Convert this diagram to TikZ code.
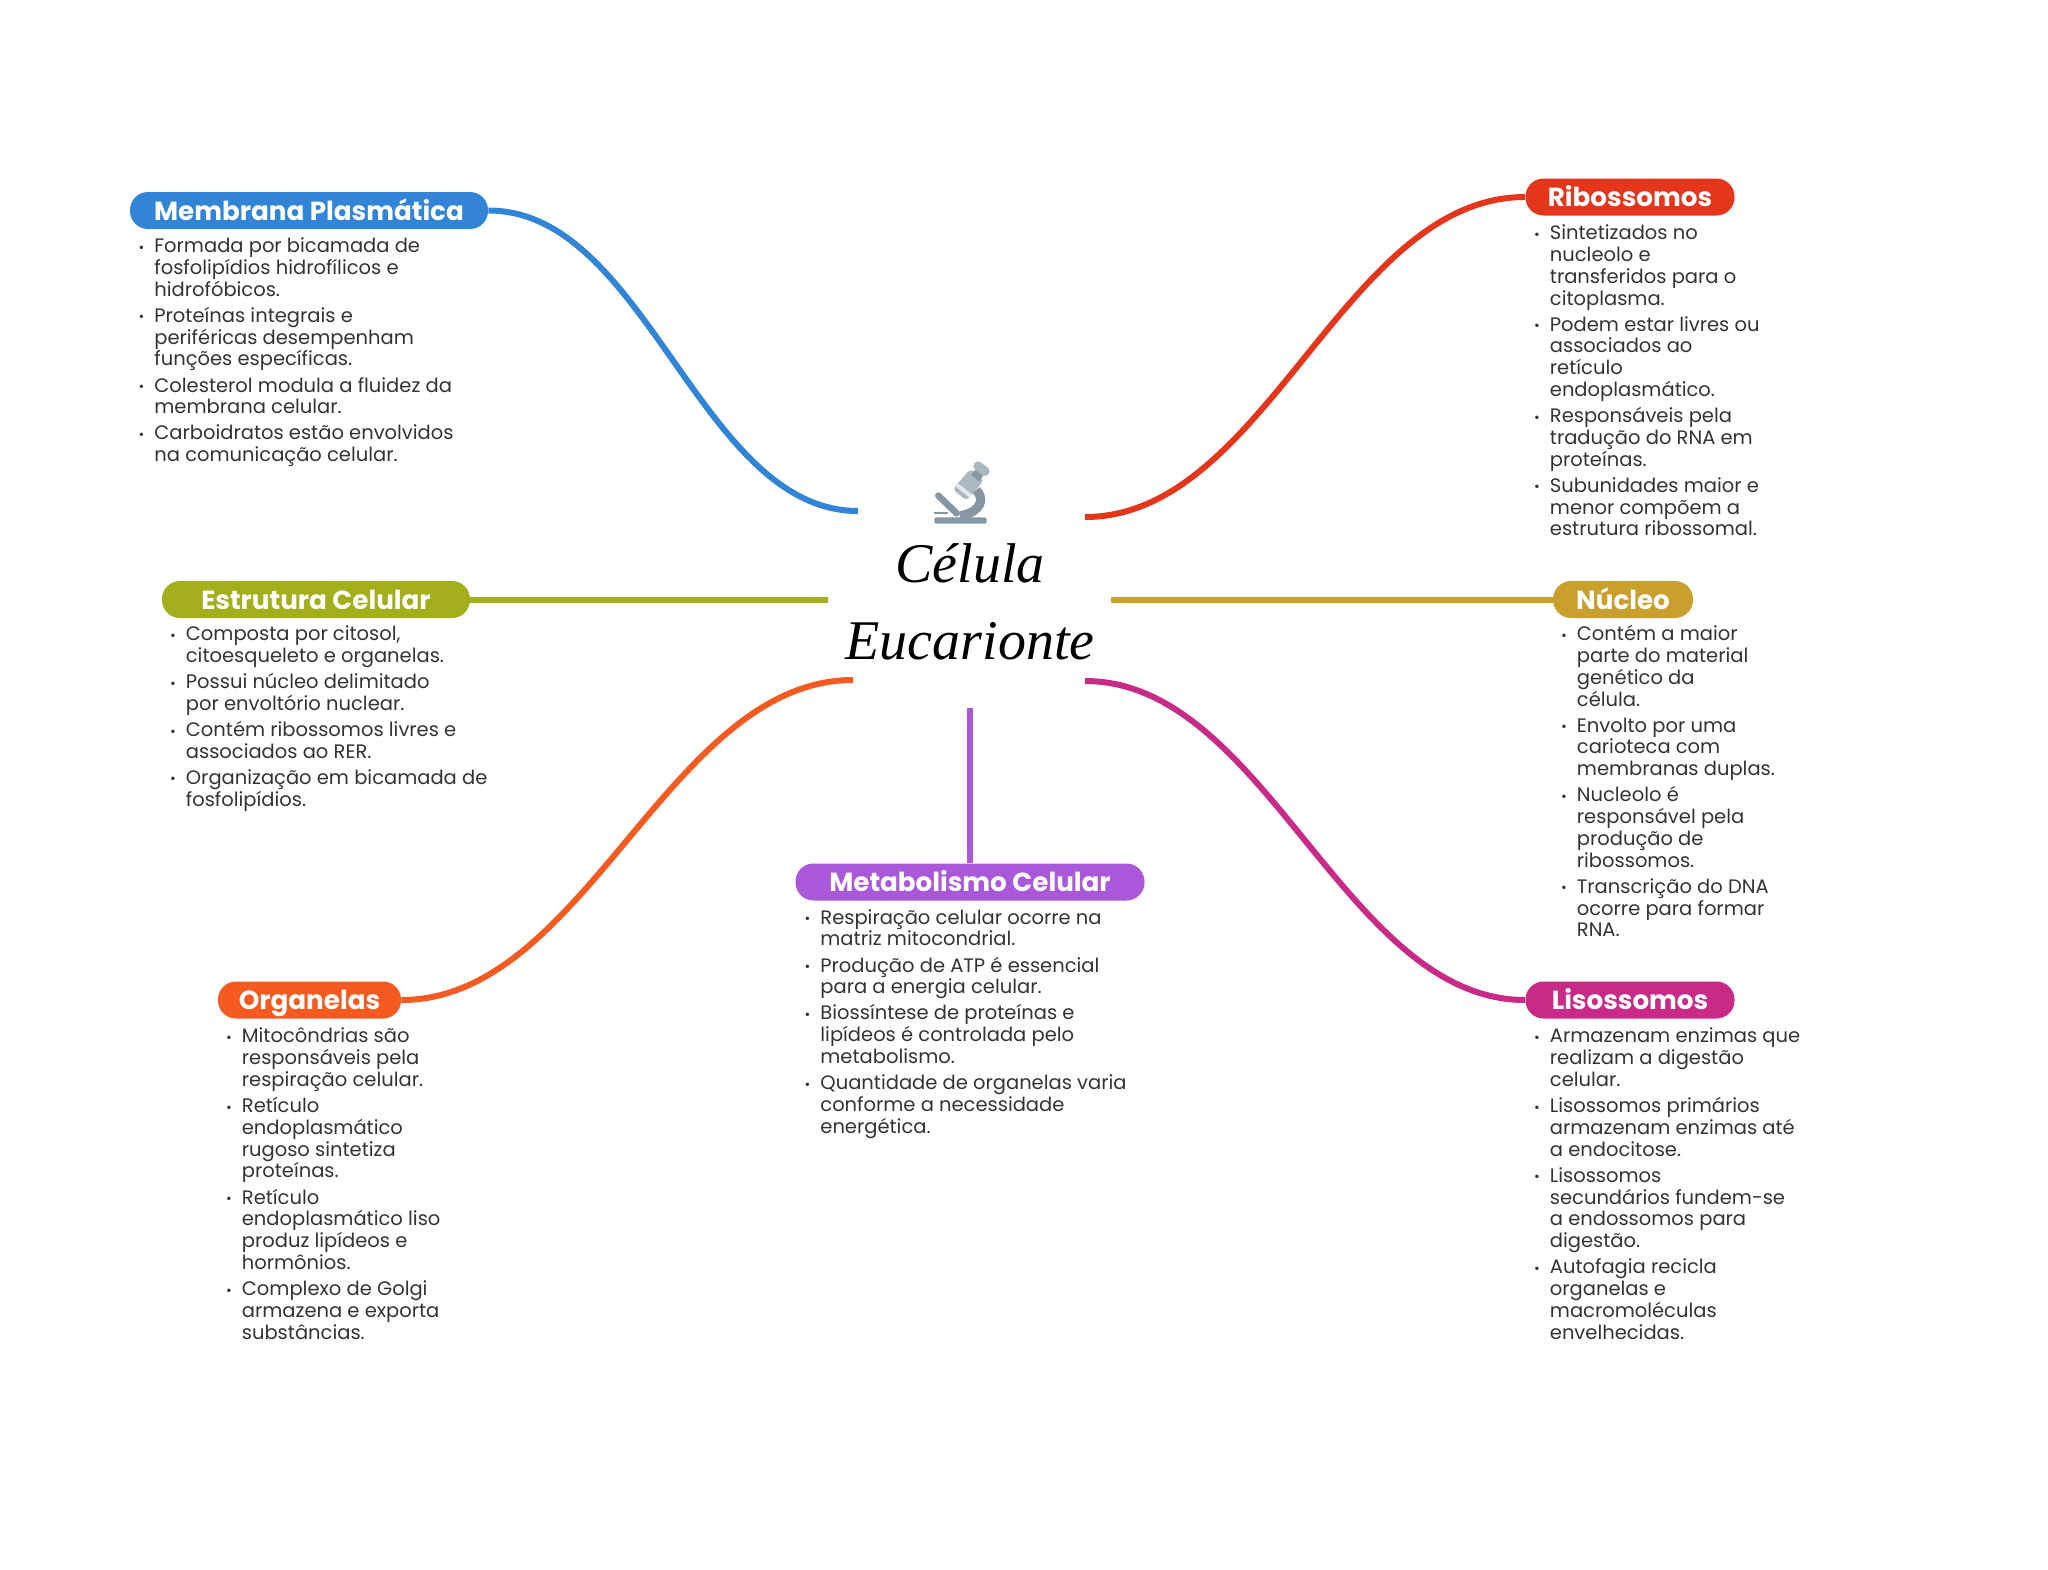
\documentclass[tikz,border=0pt]{standalone}
\usepackage{fontspec}
\setmainfont{Poppins}
\newfontfamily\titlefont{Liberation Serif}
\definecolor{azulM}{HTML}{3184D6}
\definecolor{vermR}{HTML}{E3361B}
\definecolor{oliveE}{HTML}{A2AE1A}
\definecolor{ouroN}{HTML}{C9A02E}
\definecolor{laranjaO}{HTML}{F55A20}
\definecolor{roxoB}{HTML}{AA58DA}
\definecolor{magentaL}{HTML}{C72A87}
\definecolor{textoC}{HTML}{333333}
\definecolor{microA}{HTML}{A9B8C1}
\definecolor{microB}{HTML}{8696A3}
\newcommand{\bul}{\leavevmode\strut\llap{{\fontsize{7}{7}\selectfont\raisebox{0.2pt}{•}}\hspace{5pt}}}
\newcommand{\gapi}{\\[2.15pt]}
\newcommand{\bodyfont}{\fontsize{9.75}{10.9}\selectfont\setlength{\lineskiplimit}{-20pt}}
\tikzset{
  headbox/.style={fill=#1, rounded corners=9pt, inner xsep=2pt, inner ysep=0pt, minimum height=18.5pt,
    text=white, text height=10.5pt, text depth=0.9pt, font=\fontsize{13.1}{15}\selectfont\bfseries},
  bodytxt/.style={anchor=north west, inner sep=0pt, align=left, text=textoC, font=\bodyfont},
  conn/.style={line width=3pt, draw=#1},
  curvL/.style={out=0, in=180, looseness=0.85},
  curvR/.style={out=180, in=0, looseness=0.85}
}
\begin{document}
\begin{tikzpicture}[x=0.5pt, y=-0.5pt]
\useasboundingbox (0,0) rectangle (2048,1569);
% Title
\node[inner sep=0pt, align=center, font=\fontsize{28}{38.5}\selectfont\titlefont\itshape] (titulo) at (970,602) {Célula\\Eucarionte};
% Microscope
\begin{scope}[shift={(800,430)}, scale=1/3]
\draw[line width=3.3pt, line cap=round, draw=microB] (415,197) -- (470,250);
\fill[microB] (403,245) rectangle (445,253);
\draw[line width=4.6pt, draw=microB] (528,180) .. controls (555,205) and (545,245) .. (480,258);
\fill[microB, rounded corners=1pt] (403,262) rectangle (560,281);
\fill[microA, rounded corners=2pt] (458,178) -- (512,116) -- (552,150) -- (500,212) -- cycle;
\draw[line width=2pt, draw=white!70!microA] (468,163) -- (512,198);
\draw[line width=4.4pt, draw=microB] (522,124) -- (545,143);
\draw[line width=4.6pt, line cap=round, draw=microA] (534,108) -- (555,124);
\end{scope}
% Central ends
\coordinate (cMem) at (858,511);
\coordinate (cRib) at (1085,517);
\coordinate (cEst) at (828,599.5);
\coordinate (cNuc) at (1111,599.5);
\coordinate (cOrg) at (853,680);
\coordinate (cLis) at (1085,681);
\coordinate (cMet) at (970,708);
% Membrana
\node[headbox=azulM, minimum width=179pt] (mem) at (309,210.5) {Membrana Plasmática};
\node[bodytxt] (memT) at (154,237) {\bul Formada por bicamada de\\fosfolipídios hidrofílicos e\\hidrofóbicos.\gapi
\bul Proteínas integrais e\\periféricas desempenham\\funções específicas.\gapi
\bul Colesterol modula a fluidez da\\membrana celular.\gapi
\bul Carboidratos estão envolvidos\\na comunicação celular.};
\draw[conn=azulM] (mem.east) to[curvL] (cMem);
% Ribossomos
\node[headbox=vermR, minimum width=104.5pt] (rib) at (1630,197) {Ribossomos};
\node[bodytxt] (ribT) at (1549.5,224) {\bul Sintetizados no\\nucleolo e\\transferidos para o\\citoplasma.\gapi
\bul Podem estar livres ou\\associados ao\\retículo\\endoplasmático.\gapi
\bul Responsáveis pela\\tradução do RNA em\\proteínas.\gapi
\bul Subunidades maior e\\menor compõem a\\estrutura ribossomal.};
\draw[conn=vermR] (rib.west) to[curvR] (cRib);
% Estrutura
\node[headbox=oliveE, minimum width=154pt] (est) at (316,599.5) {Estrutura Celular};
\node[bodytxt] (estT) at (185.5,625) {\bul Composta por citosol,\\citoesqueleto e organelas.\gapi
\bul Possui núcleo delimitado\\por envoltório nuclear.\gapi
\bul Contém ribossomos livres e\\associados ao RER.\gapi
\bul Organização em bicamada de\\fosfolipídios.};
\draw[conn=oliveE] (est.east) -- (cEst);
% Nucleo
\node[headbox=ouroN, minimum width=70pt] (nuc) at (1623,599.5) {Núcleo};
\node[bodytxt] (nucT) at (1576.5,625) {\bul Contém a maior\\parte do material\\genético da\\célula.\gapi
\bul Envolto por uma\\carioteca com\\membranas duplas.\gapi
\bul Nucleolo é\\responsável pela\\produção de\\ribossomos.\gapi
\bul Transcrição do DNA\\ocorre para formar\\RNA.};
\draw[conn=ouroN] (nuc.west) -- (cNuc);
% Organelas
\node[headbox=laranjaO, minimum width=91.5pt] (org) at (309.5,1000) {Organelas};
\node[bodytxt] (orgT) at (241.5,1027.2) {\bul Mitocôndrias são\\responsáveis pela\\respiração celular.\gapi
\bul Retículo\\endoplasmático\\rugoso sintetiza\\proteínas.\gapi
\bul Retículo\\endoplasmático liso\\produz lipídeos e\\hormônios.\gapi
\bul Complexo de Golgi\\armazena e exporta\\substâncias.};
\draw[conn=laranjaO] (org.east) to[curvL] (cOrg);
% Metabolismo
\node[headbox=roxoB, minimum width=174.5pt] (met) at (970,882) {Metabolismo Celular};
\node[bodytxt] (metT) at (820,908.5) {\bul Respiração celular ocorre na\\matriz mitocondrial.\gapi
\bul Produção de ATP é essencial\\para a energia celular.\gapi
\bul Biossíntese de proteínas e\\lipídeos é controlada pelo\\metabolismo.\gapi
\bul Quantidade de organelas varia\\conforme a necessidade\\energética.};
\draw[conn=roxoB] (met.north) -- (cMet);
% Lisossomos
\node[headbox=magentaL, minimum width=104.5pt] (lis) at (1630,1000) {Lisossomos};
\node[bodytxt] (lisT) at (1549.5,1027.2) {\bul Armazenam enzimas que\\realizam a digestão\\celular.\gapi
\bul Lisossomos primários\\armazenam enzimas até\\a endocitose.\gapi
\bul Lisossomos\\secundários fundem-se\\a endossomos para\\digestão.\gapi
\bul Autofagia recicla\\organelas e\\macromoléculas\\envelhecidas.};
\draw[conn=magentaL] (lis.west) to[curvR] (cLis);
\end{tikzpicture}
\end{document}
